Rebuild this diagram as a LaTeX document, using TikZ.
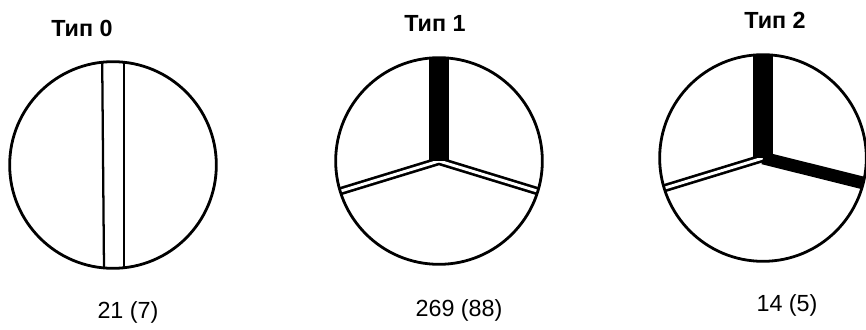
\documentclass[tikz,border=0pt]{standalone}
\usepackage{fontspec}
\setmainfont{Liberation Sans}
\usetikzlibrary{backgrounds}

\tikzset{
  disc/.style={circle, draw, line width=2.1pt, minimum size=155pt, inner sep=0pt, outer sep=0pt},
  wall/.style={line width=1.7pt},
  twin/.style={line width=2pt, double=white, double distance=2.2pt},
  bar/.style={line width=15pt},
  rib/.style={line width=9.5pt},
  title/.style={font=\fontsize{17.5}{20}\selectfont\bfseries},
  count/.style={font=\fontsize{17.5}{20}\selectfont},
}

\begin{document}
\begin{tikzpicture}[x=0.75pt, y=0.75pt]
  \useasboundingbox (0,0) rectangle (866,329);

  % the three cross sections
  \node[disc] (c0) at (113,164) {};
  \node[disc] (c1) at (439,168) {};
  \node[disc] (c2) at (763,171) {};

  % titles
  \node[title] (t0) at (82,301) {Тип 0};
  \node[title] (t1) at (435,306) {Тип 1};
  \node[title] (t2) at (775,309) {Тип 2};

  % counts
  \node[count] (n0) at (128,17) {21 (7)};
  \node[count] (n1) at (459,19) {269 (88)};
  \node[count] (n2) at (787,24) {14 (5)};

  \begin{scope}[on background layer]
    % Type 0 - one straight septum
    \draw[wall] (c0.96) -- (c0.265);
    \draw[wall] (c0.84) -- (c0.276);

    % Type 1 - dark top arm, two light arms
    \draw[twin] (c1.197) -- (c1.center) -- (c1.343);
    \draw[bar] (c1.center) -- (c1.90);

    % Type 2 - two dark arms, one light arm
    \draw[twin] (c2.197) -- (c2.center);
    \draw[rib] (c2.center) -- (c2.346);
    \draw[bar] (c2.center) -- (c2.90);
  \end{scope}
\end{tikzpicture}
\end{document}
